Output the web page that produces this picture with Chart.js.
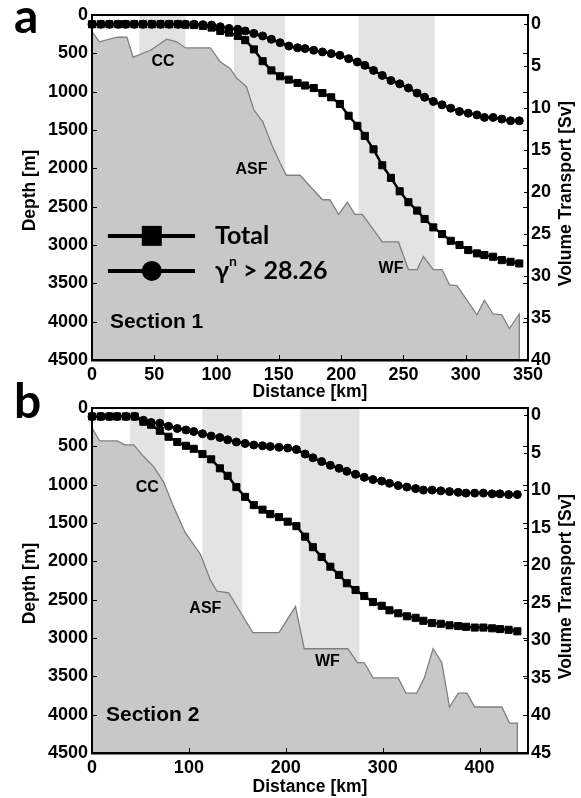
<!DOCTYPE html>
<html>
<head>
<meta charset="utf-8">
<script src="https://cdn.jsdelivr.net/npm/chart.js@4.4.0/dist/chart.umd.min.js"></script>
<style>
  html, body { margin: 0; padding: 0; background: #fff; }
  #wrap { position: relative; width: 581px; height: 798px; }
  canvas { position: absolute; left: 0; }
</style>
</head>
<body>
<div id="wrap">
  <canvas id="chartA" width="581" height="410" style="top:0"></canvas>
  <canvas id="chartB" width="581" height="418" style="top:380px"></canvas>
</div>
<script>
// ---- data ----
const depthTicks = [0, 500, 1000, 1500, 2000, 2500, 3000, 3500, 4000, 4500];

// Section 1
const distTicksA = [0, 50, 100, 150, 200, 250, 300, 350];
const svTicksA = [0, 5, 10, 15, 20, 25, 30, 35, 40];
const distA = [0, 7, 14, 21, 27, 34, 41, 48, 55, 62, 69, 75, 82, 89, 96, 103, 110, 117, 123, 130, 137, 144, 151, 158, 165, 171, 178, 185, 192, 199, 206, 213, 219, 226, 233, 240, 247, 254, 261, 267, 274, 281, 288, 295, 302, 309, 315, 322, 329, 336, 343];
const totalA = [0, 0, 0, 0, 0, 0, 0, 0, 0, 0, 0, 0.05, 0.1, 0.2, 0.4, 0.8, 1.0, 1.4, 1.9, 3.0, 4.4, 5.5, 6.2, 6.6, 7.0, 7.3, 7.6, 8.2, 8.7, 9.5, 10.9, 12.1, 13.3, 14.9, 16.8, 18.3, 19.9, 21.2, 22.2, 23.2, 24.2, 25.0, 25.8, 26.3, 26.9, 27.3, 27.5, 27.7, 28.1, 28.3, 28.5];
const gammaA = [0, 0, 0, 0, 0, 0, 0, 0, 0, 0, 0, 0, 0, 0.05, 0.1, 0.3, 0.5, 0.6, 0.8, 1.1, 1.4, 1.8, 2.2, 2.6, 2.8, 2.9, 3.1, 3.3, 3.5, 3.7, 4.1, 4.5, 4.9, 5.5, 6.1, 6.7, 7.1, 7.6, 8.2, 8.7, 9.2, 9.6, 10.0, 10.4, 10.6, 10.8, 11.1, 11.1, 11.3, 11.5, 11.5];
const bathyKmA = [0, 6, 20, 28, 33, 47, 60, 68, 75, 95, 103, 111, 116, 124, 130, 137, 145, 151, 156, 167, 185, 191, 198, 205, 211, 217, 233, 246, 254, 261, 266, 274, 281, 287, 293, 309, 315, 322, 329, 335, 343, 343];
const bathyDepthA = [220, 350, 290, 290, 550, 460, 315, 350, 430, 430, 610, 700, 820, 935, 1240, 1390, 1720, 1930, 2090, 2090, 2410, 2410, 2600, 2440, 2600, 2600, 2960, 2960, 3320, 3320, 3150, 3320, 3320, 3520, 3530, 3910, 3720, 3900, 3910, 4090, 3900, 4500];
const bandsA = [[38, 75], [114, 155], [214, 275]];

// Section 2
const distTicksB = [0, 100, 200, 300, 400];
const svTicksB = [0, 5, 10, 15, 20, 25, 30, 35, 40, 45];
const distB = [0, 9, 18, 26, 35, 44, 53, 61, 70, 79, 88, 97, 105, 114, 123, 132, 140, 149, 158, 167, 176, 184, 193, 202, 211, 220, 228, 237, 246, 255, 263, 272, 281, 290, 299, 307, 316, 325, 334, 342, 351, 360, 369, 378, 386, 395, 404, 413, 421, 430, 439];
const totalB = [0.2, 0.2, 0.2, 0.2, 0.2, 0.2, 0.9, 1.3, 2.1, 2.9, 3.6, 4.1, 4.5, 5.2, 5.9, 7.1, 8.1, 9.6, 10.9, 12.0, 12.6, 13.2, 13.6, 14.2, 14.8, 16.2, 17.6, 18.9, 20.2, 21.3, 22.4, 23.3, 24.1, 24.9, 25.4, 26.0, 26.4, 26.8, 27.0, 27.4, 27.7, 27.8, 28.0, 28.1, 28.2, 28.3, 28.3, 28.4, 28.5, 28.6, 28.8];
const gammaB = [0.2, 0.2, 0.2, 0.2, 0.2, 0.2, 0.7, 1.0, 1.1, 1.5, 1.8, 2.0, 2.2, 2.5, 2.8, 3.0, 3.3, 3.6, 3.8, 4.0, 4.1, 4.2, 4.3, 4.4, 4.6, 5.2, 5.7, 6.2, 6.7, 7.1, 7.5, 7.9, 8.3, 8.6, 8.8, 9.1, 9.4, 9.6, 9.8, 10.0, 10.0, 10.1, 10.2, 10.3, 10.4, 10.4, 10.4, 10.5, 10.5, 10.6, 10.6];
const bathyKmB = [0, 8, 26, 34, 43, 53, 64, 74, 84, 96, 112, 122, 129, 141, 166, 193, 210, 219, 264, 274, 281, 290, 316, 324, 335, 343, 352, 361, 369, 378, 387, 395, 423, 431, 439, 439];
const bathyDepthB = [260, 430, 430, 480, 480, 630, 770, 970, 1280, 1620, 1910, 2240, 2390, 2410, 2930, 2930, 2590, 3140, 3140, 3320, 3320, 3520, 3520, 3720, 3720, 3520, 3140, 3320, 3900, 3720, 3720, 3900, 3900, 4110, 4110, 4500];
const bandsB = [[39, 75], [114, 155], [215, 276]];

const FONT = "'Liberation Sans', Arial, sans-serif";
const LEG_FONT = "Lato, 'Open Sans', sans-serif";

function pts(xs, ys) {
  return xs.map((x, i) => ({ x: x, y: ys[i] }));
}

function drawMarker(ctx, kind, x, y, r) {
  ctx.beginPath();
  if (kind === "rect") ctx.rect(x - r, y - r, 2 * r, 2 * r);
  else ctx.arc(x, y, r, 0, Math.PI * 2);
  ctx.fill();
}

function buildPanel(canvasId, p) {
  const decor = {
    id: "decor",
    beforeDatasetsDraw(chart) {
      const { ctx, chartArea: a, scales } = chart;
      ctx.save();
      ctx.fillStyle = "#e3e3e3";
      p.bands.forEach(([k0, k1]) => {
        const x0 = scales.x.getPixelForValue(k0);
        const x1 = scales.x.getPixelForValue(k1);
        ctx.fillRect(x0, a.top, x1 - x0, a.bottom - a.top);
      });
      ctx.restore();
    },
    afterDraw(chart) {
      const { ctx, chartArea: a, scales } = chart;
      const sx = scales.x, sy = scales.y, s2 = scales.y2;
      ctx.save();
      ctx.strokeStyle = "#000";
      ctx.lineWidth = 1;
      // ticks point inward like the original
      ctx.beginPath();
      p.distTicks.forEach((v) => {
        const x = Math.round(sx.getPixelForValue(v)) + 0.5;
        ctx.moveTo(x, a.bottom);
        ctx.lineTo(x, a.bottom - 5);
      });
      depthTicks.forEach((v) => {
        const y = Math.round(sy.getPixelForValue(v)) + 0.5;
        ctx.moveTo(a.left, y); ctx.lineTo(a.left + 5, y);
        ctx.moveTo(a.right, y); ctx.lineTo(a.right - 5, y);
      });
      p.svTicks.forEach((v) => {
        const y = Math.round(s2.getPixelForValue(v)) + 0.5;
        ctx.moveTo(a.right, y); ctx.lineTo(a.right - 4, y);
      });
      ctx.stroke();

      ctx.lineWidth = 2;
      ctx.strokeRect(a.left, a.top, a.right - a.left, a.bottom - a.top);
      ctx.beginPath();
      ctx.moveTo(a.left - 1, a.bottom + 0.5);
      ctx.lineTo(a.right + 1, a.bottom + 0.5);
      ctx.stroke();

      // feature labels
      ctx.fillStyle = "#000";
      ctx.textBaseline = "middle";
      p.notes.forEach((n) => {
        ctx.font = "bold " + n.size + "px " + FONT;
        ctx.textAlign = n.align || "center";
        ctx.fillText(n.text, sx.getPixelForValue(n.km), sy.getPixelForValue(n.depth));
      });

      // legend (section 1 only)
      if (p.legend) {
        const L = p.legend;
        const x0 = sx.getPixelForValue(L.km0), x1 = sx.getPixelForValue(L.km1);
        const xm = sx.getPixelForValue(L.markKm), xt = sx.getPixelForValue(L.textKm);
        L.rows.forEach((row) => {
          const y = sy.getPixelForValue(row.depth);
          ctx.lineWidth = 4;
          ctx.beginPath(); ctx.moveTo(x0, y); ctx.lineTo(x1, y); ctx.stroke();
          drawMarker(ctx, row.marker, xm, y, 10);
          ctx.textAlign = "left";
          ctx.font = "bold 25px " + LEG_FONT;
          if (row.sup) {
            let x = xt;
            ctx.fillText(row.label, x, y);
            x += ctx.measureText(row.label).width;
            ctx.font = "bold 14px " + LEG_FONT;
            ctx.fillText(row.sup, x, y - 9);
            x += ctx.measureText(row.sup).width;
            ctx.font = "bold 25px " + LEG_FONT;
            ctx.fillText(row.rest, x, y);
          } else {
            ctx.fillText(row.label, xt, y);
          }
        });
      }

      // axis titles
      ctx.font = "bold 17.5px " + FONT;
      ctx.textAlign = "center";
      ctx.fillText("Distance [km]", (a.left + a.right) / 2, p.xTitleY);
      const ym = (a.top + a.bottom) / 2 + 3;
      ctx.save();
      ctx.translate(30, ym); ctx.rotate(-Math.PI / 2);
      ctx.fillText("Depth [m]", 0, 0);
      ctx.restore();
      ctx.save();
      ctx.translate(566, ym + 3); ctx.rotate(-Math.PI / 2);
      ctx.fillText("Volume Transport [Sv]", 0, 0);
      ctx.restore();

      // panel letter
      ctx.font = "bold 48px " + LEG_FONT;
      ctx.textAlign = "left";
      ctx.textBaseline = "alphabetic";
      ctx.fillText(p.letter, 14, p.letterY);
      ctx.restore();
    },
  };

  const tickFont = { family: FONT, weight: "bold", size: 18 };
  const fixTicks = (list) => (scale) => { scale.ticks = list.map((v) => ({ value: v })); };
  const plain = (v) => String(v);

  return new Chart(document.getElementById(canvasId), {
    type: "line",
    data: {
      datasets: [
        {
          label: "Total",
          data: pts(p.dist, p.total),
          yAxisID: "y2",
          borderColor: "#000",
          backgroundColor: "#000",
          borderWidth: 2.5,
          pointStyle: "rect",
          pointRadius: 5,
          pointBorderWidth: 1,
          clip: false,
          order: 1,
        },
        {
          label: "gamma",
          data: pts(p.dist, p.gamma),
          yAxisID: "y2",
          borderColor: "#000",
          backgroundColor: "#000",
          borderWidth: 2.5,
          pointStyle: "circle",
          pointRadius: 4,
          pointBorderWidth: 1,
          clip: false,
          order: 2,
        },
        {
          label: "bathymetry",
          data: pts(p.bathyKm, p.bathyDepth),
          yAxisID: "y",
          borderColor: "#808080",
          backgroundColor: "#c8c8c8",
          borderWidth: 1.3,
          pointRadius: 0,
          fill: { value: 4500 },
          order: 10,
        },
      ],
    },
    options: {
      responsive: false,
      animation: false,
      events: [],
      layout: { padding: { top: p.padTop, left: 0, right: 0, bottom: 0 } },
      plugins: { legend: { display: false }, tooltip: { enabled: false } },
      scales: {
        x: {
          type: "linear",
          position: "bottom",
          min: 0,
          max: p.xMax,
          afterBuildTicks: fixTicks(p.distTicks),
          afterFit: (s) => { s.height = p.xAxisH; },
          ticks: { font: tickFont, color: "#000", padding: 4, maxRotation: 0, autoSkip: false, callback: plain },
          grid: { display: false, drawTicks: false },
          border: { display: false },
        },
        y: {
          type: "linear",
          position: "left",
          reverse: true,
          min: 0,
          max: 4500,
          afterBuildTicks: fixTicks(depthTicks),
          afterFit: (s) => { s.width = 92; },
          ticks: { font: tickFont, color: "#000", padding: 4, callback: plain },
          grid: { display: false, drawTicks: false },
          border: { display: false },
        },
        y2: {
          type: "linear",
          position: "right",
          reverse: true,
          min: p.svMin,
          max: p.svMax,
          afterBuildTicks: fixTicks(p.svTicks),
          afterFit: (s) => { s.width = 53; },
          ticks: { font: tickFont, color: "#000", padding: 3, callback: plain },
          grid: { display: false, drawTicks: false },
          border: { display: false },
        },
      },
    },
    plugins: [decor],
  });
}

buildPanel("chartA", {
  letter: "a", letterY: 33,
  padTop: 15, xAxisH: 50, xTitleY: 392,
  xMax: 350, svMin: -1.1, svMax: 40,
  distTicks: distTicksA, svTicks: svTicksA,
  dist: distA, total: totalA, gamma: gammaA,
  bathyKm: bathyKmA, bathyDepth: bathyDepthA, bands: bandsA,
  notes: [
    { text: "CC", km: 57, depth: 613, size: 16 },
    { text: "ASF", km: 128, depth: 2021, size: 16 },
    { text: "WF", km: 240, depth: 3312, size: 16 },
    { text: "Section 1", km: 14.4, depth: 4003, size: 21, align: "left" },
  ],
  legend: {
    km0: 12.8, km1: 82.7, markKm: 48, textKm: 98.7,
    rows: [
      { depth: 2881, marker: "rect", label: "Total" },
      { depth: 3338, marker: "circle", label: "γ", sup: "n", rest: " > 28.26" },
    ],
  },
});

buildPanel("chartB", {
  letter: "b", letterY: 38,
  padTop: 28, xAxisH: 45, xTitleY: 407,
  xMax: 450, svMin: -0.93, svMax: 45,
  distTicks: distTicksB, svTicks: svTicksB,
  dist: distB, total: totalB, gamma: gammaB,
  bathyKm: bathyKmB, bathyDepth: bathyDepthB, bands: bandsB,
  notes: [
    { text: "CC", km: 57, depth: 1034, size: 16 },
    { text: "ASF", km: 117, depth: 2618, size: 16 },
    { text: "WF", km: 243, depth: 3311, size: 16 },
    { text: "Section 2", km: 14.4, depth: 4005, size: 21, align: "left" },
  ],
  legend: null,
});
</script>
</body>
</html>
